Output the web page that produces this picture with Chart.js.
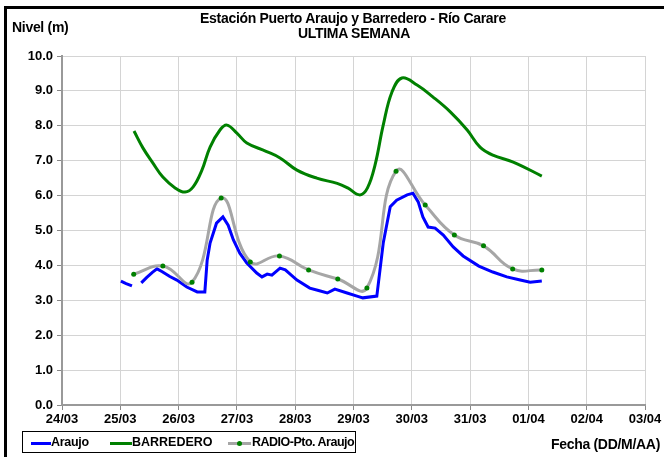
<!DOCTYPE html>
<html>
<head>
<meta charset="utf-8">
<script src="https://cdn.jsdelivr.net/npm/chart.js@4.4.1/dist/chart.umd.min.js"></script>
<style>
  html, body { margin: 0; padding: 0; background: #fff; }
  #wrap { position: relative; width: 664px; height: 457px; overflow: hidden; font-family: "Liberation Sans", Arial, sans-serif; font-weight: bold; color: #000; }
  #c { position: absolute; left: 0; top: 0; }
  .t { position: absolute; white-space: nowrap; font-size: 14px; line-height: 15px; letter-spacing: -0.3px; }
  #frame { position: absolute; left: 4px; top: 6px; width: 660px; height: 460px; border-left: 3px solid #000; border-top: 3px solid #000; box-sizing: border-box; }
  #legend { position: absolute; left: 22px; top: 431px; width: 334px; height: 22px; border: 1px solid #000; box-sizing: border-box; background: #fff; }
  .li { position: absolute; top: 3px; font-size: 12.5px; line-height: 15px; letter-spacing: -0.3px; white-space: nowrap; }
  .sw { position: absolute; top: 10px; height: 3px; }
  .dot { position: absolute; top: 9px; width: 5px; height: 5px; border-radius: 50%; background: #008000; }
</style>
</head>
<body>
<div id="wrap">
  <canvas id="c" width="664" height="457"></canvas>
  <div id="frame"></div>
  <div class="t" style="left:0;width:706px;text-align:center;top:11px;">Estación Puerto Araujo y Barredero - Río Carare</div>
  <div class="t" style="left:0;width:708px;text-align:center;top:26px;">ULTIMA SEMANA</div>
  <div class="t" style="left:12px;top:20px;">Nivel (m)</div>
  <div class="t" style="right:4px;top:437px;">Fecha (DD/M/AA)</div>
  <div id="legend">
    <div class="sw" style="left:8px;width:20px;background:#0000ff;"></div>
    <div class="li" style="left:28px;">Araujo</div>
    <div class="sw" style="left:87px;width:22px;background:#008000;"></div>
    <div class="li" style="left:109px;letter-spacing:0;">BARREDERO</div>
    <div class="sw" style="left:205px;width:23px;background:#a6a6a6;"></div>
    <div class="dot" style="left:214px;"></div>
    <div class="li" style="left:229px;letter-spacing:-0.5px;">RADIO-Pto. Araujo</div>
  </div>
</div>
<script>
// Tick labels (x = days since 24/03)
const dayLabels = ['24/03','25/03','26/03','27/03','28/03','29/03','30/03','31/03','01/04','02/04','03/04'];

// BARREDERO
const barrederoX = [1.235,1.39,1.56,1.73,1.94,2.11,2.25,2.40,2.54,2.71,2.83,3.00,3.17,3.50,3.74,4.03,4.37,4.72,4.90,5.11,5.24,5.37,5.51,5.66,5.83,6.09,6.36,6.66,6.95,7.17,7.39,7.74,8.23];
const barrederoY = [7.85,7.36,6.93,6.53,6.22,6.10,6.25,6.73,7.39,7.88,8.02,7.79,7.51,7.27,7.08,6.73,6.50,6.35,6.22,6.02,6.22,6.88,8.02,8.97,9.37,9.17,8.83,8.40,7.88,7.39,7.16,6.96,6.56];

// Araujo
const araujoX = [1.01,1.10,1.20,1.28,1.36,1.45,1.55,1.63,1.72,1.85,1.97,2.14,2.32,2.45,2.49,2.54,2.65,2.76,2.85,2.94,3.05,3.17,3.34,3.43,3.52,3.60,3.74,3.83,4.03,4.25,4.40,4.55,4.68,4.89,5.06,5.16,5.40,5.51,5.63,5.74,5.92,6.02,6.11,6.19,6.28,6.40,6.54,6.71,6.88,7.15,7.39,7.63,7.86,8.03,8.23];
const araujoY = [3.55,3.48,3.41,null,3.50,3.65,3.80,3.90,3.82,3.68,3.58,3.38,3.24,3.24,4.15,4.64,5.21,5.39,5.15,4.73,4.35,4.07,3.78,3.67,3.75,3.72,3.92,3.87,3.58,3.35,3.28,3.21,3.32,3.21,3.12,3.07,3.12,4.64,5.68,5.87,6.02,6.07,5.82,5.39,5.10,5.07,4.87,4.53,4.27,3.98,3.81,3.67,3.58,3.52,3.55];

// RADIO-Pto. Araujo
const radioX = [1.23,1.73,2.23,2.73,3.23,3.73,4.23,4.73,5.23,5.73,6.23,6.73,7.23,7.73,8.23];
const radioY = [3.75,3.98,3.52,5.93,4.10,4.27,3.87,3.61,3.35,6.70,5.73,4.87,4.56,3.90,3.87];

const yTicks = [0,1,2,3,4,5,6,7,8,9,10];

function pts(xs, ys) { return xs.map((x, i) => ({ x: x, y: ys[i] })); }

const FONT = { family: "'Liberation Sans', Arial, sans-serif", size: 13, weight: 'bold' };

new Chart(document.getElementById('c'), {
  type: 'line',
  data: {
    datasets: [
      { label: 'Araujo', data: pts(araujoX, araujoY), borderColor: '#0000ff', borderWidth: 3, pointRadius: 0, tension: 0, spanGaps: false, order: 3 },
      { label: 'BARREDERO', data: pts(barrederoX, barrederoY), borderColor: '#008000', borderWidth: 3, pointRadius: 0, tension: 0.4, order: 2 },
      { label: 'RADIO-Pto. Araujo', data: pts(radioX, radioY), borderColor: '#a6a6a6', borderWidth: 3, pointRadius: 2.5, pointBorderWidth: 0, pointBackgroundColor: '#008000', pointBorderColor: '#008000', tension: 0.45, order: 1 }
    ]
  },
  options: {
    responsive: false,
    animation: false,
    devicePixelRatio: 1,
    layout: { padding: { left: 0, top: 56, right: 19, bottom: 0 } },
    plugins: { legend: { display: false }, title: { display: false }, tooltip: { enabled: false } },
    scales: {
      x: {
        type: 'linear', min: 0, max: 10,
        afterFit: (s) => { s.height = 52; },
        afterBuildTicks: (s) => { s.ticks = dayLabels.map((_, i) => ({ value: i })); },
        ticks: { font: FONT, color: '#000', padding: 2, maxRotation: 0, autoSkip: false, callback: (v) => dayLabels[v] },
        grid: { color: '#d4d4d4', lineWidth: 1, tickLength: 5, tickColor: '#888' },
        border: { color: '#999', width: 2 }
      },
      y: {
        min: 0, max: 10,
        afterFit: (s) => { s.width = 62; },
        afterBuildTicks: (s) => { s.ticks = yTicks.map(v => ({ value: v })); },
        ticks: { font: FONT, color: '#000', padding: 4, callback: (v) => v.toFixed(1) },
        grid: { color: '#d4d4d4', lineWidth: 1, tickLength: 5, tickColor: '#888' },
        border: { color: '#999', width: 2 }
      }
    }
  }
});
</script>
</body>
</html>
